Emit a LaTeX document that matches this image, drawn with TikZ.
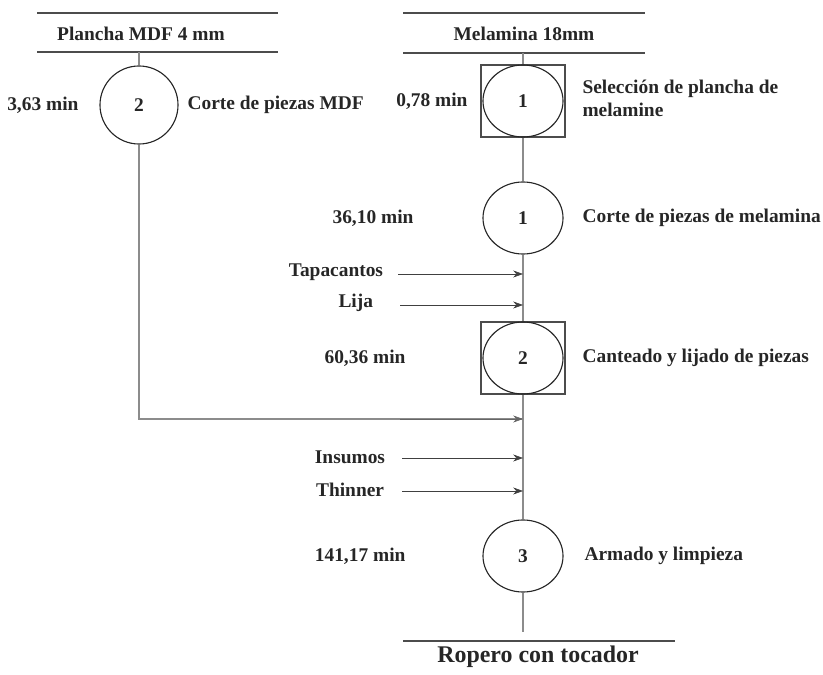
\documentclass[tikz,border=0pt]{standalone}
\usepackage{fontspec}
\setmainfont{Liberation Serif}
\usepackage{tikz}
\usetikzlibrary{positioning}
\usetikzlibrary{shapes.geometric}
\usetikzlibrary{arrows.meta}

\begin{document}
\begin{tikzpicture}[x=0.025cm,y=-0.025cm,
  every node/.style={font=\fontsize{13.8}{16}\selectfont\bfseries, text=black!85},
  oper/.style={draw=black!85, ellipse, minimum width=2cm, minimum height=1.8cm, inner sep=0pt, thick},
  opsq/.style={draw=black!70, rectangle, minimum width=2.1cm, minimum height=1.8cm, inner sep=0pt, thick},
  flow/.style={draw=black!45, thick},
  feed/.style={draw=black!75, -{Stealth[length=7pt,width=5pt]}},
  rule/.style={draw=black!70, thick}]
  \useasboundingbox (0,0) rectangle (823,675);

  % headers
  \draw[rule] (37,13) -- (278,13);
  \node (mdf) at (141,34) {Plancha MDF 4 mm};
  \draw[rule] (37,52) -- (278,52);
  \coordinate (mdftop) at (139,52);

  \draw[rule] (403,13) -- (645,13);
  \node (mel) at (524,34) {Melamina 18mm};
  \draw[rule] (403,53) -- (645,53);
  \coordinate (meltop) at (523,53);

  % MDF branch
  \node[oper, minimum width=1.95cm, minimum height=1.95cm] (opmdf) at (139,105) {2};
  \node[left=0.4cm of opmdf] (tmdf) {3,63 min};
  \node[right=0.1cm of opmdf] (lmdf) {Corte de piezas MDF};

  % melamina line
  \node[opsq] (selbox) at (523,101) {};
  \node[oper] (sel) at (523,101) {1};
  \node[left=0.2cm of selbox] (tsel) {0,78 min};
  \node[right=0.3cm of selbox, align=left, anchor=west, yshift=2] (lsel) {Selección de plancha de\\melamine};

  \node[oper] (cut) at (523,218) {1};
  \node[left=1.6cm of cut] (tcut) {36,10 min};
  \node[right=0.35cm of cut] (lcut) {Corte de piezas de melamina};

  \node[opsq] (canbox) at (523,358) {};
  \node[oper] (can) at (523,358) {2};
  \node[left=1.8cm of can] (tcan) {60,36 min};
  \node[right=0.3cm of canbox] (lcan) {Canteado y lijado de piezas};

  \node[oper] (arm) at (523,556) {3};
  \node[left=1.8cm of arm] (tarm) {141,17 min};
  \node[right=0.4cm of arm] (larm) {Armado y limpieza};

  \coordinate (lineend) at (523,632);

  % vertical lines
  \draw[flow] (mdftop) -- (opmdf);
  \draw[flow] (meltop) -- (selbox);
  \draw[flow] (selbox) -- (cut);
  \draw[flow] (cut) -- (canbox);
  \draw[flow] (canbox) -- (arm);
  \draw[flow] (arm) -- (lineend);

  % inputs
  \node[anchor=east] (tapa) at (388,272) {Tapacantos};
  \coordinate (intapa) at (523,274);
  \draw[feed] (398,274) -- (intapa);
  \node[anchor=east] (lija) at (378,303) {Lija};
  \coordinate (inlija) at (523,305);
  \draw[feed] (400,305) -- (inlija);

  \coordinate (inmdf) at (523,419);
  \draw[flow] (opmdf) |- (inmdf);
  \draw[feed, draw=black!60] (400,419) -- (inmdf);

  \node[anchor=east] (ins) at (390,457) {Insumos};
  \coordinate (inins) at (523,458);
  \draw[feed] (402,458) -- (inins);
  \node[anchor=east] (thin) at (389,490) {Thinner};
  \coordinate (inthin) at (523,491);
  \draw[feed] (402,491) -- (inthin);

  % product
  \draw[rule] (403,641) -- (675,641);
  \node[font=\fontsize{17}{19}\selectfont\bfseries] (prod) at (538,657) {Ropero con tocador};
\end{tikzpicture}
\end{document}
